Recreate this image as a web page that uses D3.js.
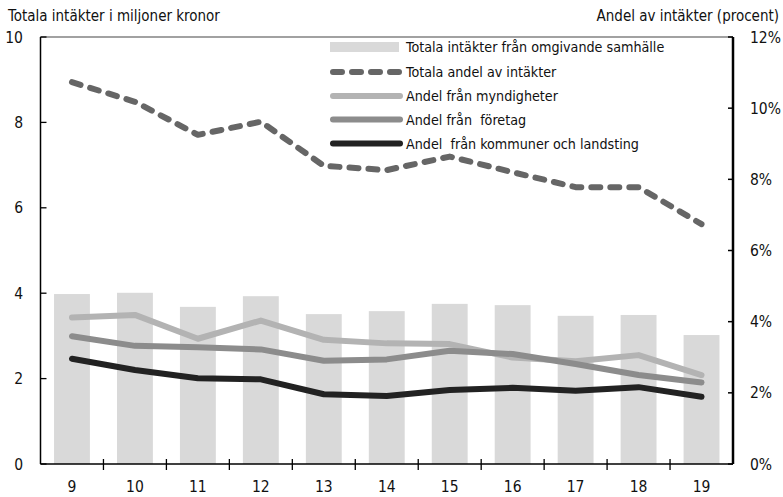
<!DOCTYPE html>
<html lang="sv">
<head>
<meta charset="utf-8">
<title>Intäkter</title>
<script src="https://cdn.jsdelivr.net/npm/d3@7"></script>
<style>
  body { margin: 0; background: #fff; }
  svg text { font-family: "Liberation Sans Narrow", "DejaVu Sans Condensed", sans-serif; fill: #111; white-space: pre; }
</style>
</head>
<body>
<script>
// data
var years = ["9", "10", "11", "12", "13", "14", "15", "16", "17", "18", "19"];
var totalIncome = [3.98, 4.01, 3.68, 3.93, 3.51, 3.58, 3.75, 3.72, 3.47, 3.49, 3.02];   // miljoner kronor
var totalShare = [10.73, 10.18, 9.25, 9.62, 8.38, 8.26, 8.64, 8.2, 7.78, 7.78, 6.74];  // procent
var shareGov = [4.12, 4.19, 3.52, 4.03, 3.49, 3.39, 3.37, 2.99, 2.89, 3.06, 2.5];
var shareCompany = [3.59, 3.32, 3.28, 3.22, 2.9, 2.94, 3.18, 3.09, 2.81, 2.5, 2.29];
var shareMunicipal = [2.96, 2.64, 2.41, 2.38, 1.96, 1.91, 2.08, 2.14, 2.06, 2.16, 1.89];
var leftTicks = [0, 2, 4, 6, 8, 10];
var rightTicks = [0, 2, 4, 6, 8, 10, 12];

var w = 783, h = 497;
var pLeft = 40.5, pRight = 733, pTop = 37, pBottom = 464;

var svg = d3.select("body").append("svg")
  .attr("width", w)
  .attr("height", h);

var x = d3.scaleBand()
  .domain(years)
  .range([pLeft, pRight])
  .paddingInner(0.43)
  .paddingOuter(0.215);

var yL = d3.scaleLinear().domain([0, 10]).range([pBottom, pTop]);
var yR = d3.scaleLinear().domain([0, 12]).range([pBottom, pTop]);

function cx(i) { return x(years[i]) + x.bandwidth() / 2; }

// bars
svg.selectAll("rect.bar")
  .data(totalIncome)
  .enter().append("rect")
  .attr("class", "bar")
  .attr("x", function(d, i) { return x(years[i]); })
  .attr("y", function(d) { return yL(d); })
  .attr("width", x.bandwidth())
  .attr("height", function(d) { return pBottom - yL(d); })
  .attr("fill", "#d9d9d9");

var series = [
  { name: "Totala andel av intäkter", values: totalShare, color: "#666666", dash: "9,10" },
  { name: "Andel från myndigheter", values: shareGov, color: "#b3b3b3", dash: null },
  { name: "Andel från  företag", values: shareCompany, color: "#8c8c8c", dash: null },
  { name: "Andel  från kommuner och landsting", values: shareMunicipal, color: "#222222", dash: null }
];

var line = d3.line()
  .x(function(d, i) { return cx(i); })
  .y(function(d) { return yR(d); });

// draw so that darker lines are on top
[1, 2, 3, 0].forEach(function(k) {
  var s = series[k];
  svg.append("path")
    .attr("d", line(s.values))
    .attr("fill", "none")
    .attr("stroke", s.color)
    .attr("stroke-width", 6)
    .attr("stroke-linecap", "round")
    .attr("stroke-linejoin", "round")
    .attr("stroke-dasharray", s.dash);
});

// frame: top line
svg.append("line")
  .attr("x1", pLeft).attr("x2", pRight)
  .attr("y1", pTop).attr("y2", pTop)
  .attr("stroke", "#444").attr("stroke-width", 1.2);

// left axis
svg.append("line")
  .attr("x1", pLeft).attr("x2", pLeft)
  .attr("y1", pTop).attr("y2", pBottom)
  .attr("stroke", "#000").attr("stroke-width", 1.5);

svg.selectAll("line.ltick")
  .data(leftTicks)
  .enter().append("line")
  .attr("x1", pLeft).attr("x2", pLeft + 6)
  .attr("y1", function(d) { return yL(d); })
  .attr("y2", function(d) { return yL(d); })
  .attr("stroke", "#000").attr("stroke-width", 1.3);

svg.selectAll("text.lab")
  .data(leftTicks)
  .enter().append("text")
  .attr("x", 23)
  .attr("y", function(d) { return yL(d); })
  .attr("dy", "0.36em")
  .attr("text-anchor", "end")
  .attr("font-size", "15.5px")
  .text(function(d) { return d; });

// right axis
svg.append("line")
  .attr("x1", pRight).attr("x2", pRight)
  .attr("y1", pTop).attr("y2", pBottom)
  .attr("stroke", "#000").attr("stroke-width", 2.5);

svg.selectAll("line.rtick")
  .data(rightTicks)
  .enter().append("line")
  .attr("x1", pRight - 5).attr("x2", pRight)
  .attr("y1", function(d) { return yR(d); })
  .attr("y2", function(d) { return yR(d); })
  .attr("stroke", "#000").attr("stroke-width", 1.5);

svg.selectAll("text.rlab")
  .data(rightTicks)
  .enter().append("text")
  .attr("x", 750)
  .attr("y", function(d) { return yR(d); })
  .attr("dy", "0.36em")
  .attr("font-size", "15.5px")
  .text(function(d) { return d + "%"; });

// bottom axis
svg.append("line")
  .attr("x1", pLeft).attr("x2", pRight)
  .attr("y1", pBottom).attr("y2", pBottom)
  .attr("stroke", "#000").attr("stroke-width", 1.5);

var bounds = d3.range(1, years.length).map(function(i) { return pLeft + i * x.step(); });
svg.selectAll("line.xtick")
  .data(bounds)
  .enter().append("line")
  .attr("x1", function(d) { return d; })
  .attr("x2", function(d) { return d; })
  .attr("y1", pBottom - 5).attr("y2", pBottom + 6)
  .attr("stroke", "#000").attr("stroke-width", 1.3);

svg.selectAll("text.xlab")
  .data(years)
  .enter().append("text")
  .attr("x", function(d, i) { return cx(i); })
  .attr("y", 492)
  .attr("text-anchor", "middle")
  .attr("font-size", "15.5px")
  .text(function(d) { return d; });

// axis titles
svg.append("text")
  .attr("x", 8).attr("y", 21)
  .attr("font-size", "15px")
  .text("Totala intäkter i miljoner kronor");

svg.append("text")
  .attr("x", 779).attr("y", 21)
  .attr("text-anchor", "end")
  .attr("font-size", "15px")
  .text("Andel av intäkter (procent)");

// legend
var legendY = [47, 72, 96, 119.5, 143.5];
var lg = svg.append("g");

lg.append("rect")
  .attr("x", 330).attr("y", legendY[0] - 5)
  .attr("width", 69).attr("height", 10)
  .attr("fill", "#d9d9d9");

lg.append("text")
  .attr("x", 406).attr("y", legendY[0])
  .attr("dy", "0.36em")
  .attr("font-size", "14.2px")
  .text("Totala intäkter från omgivande samhälle");

series.forEach(function(s, k) {
  var yy = legendY[k + 1];
  lg.append("line")
    .attr("x1", 333).attr("x2", 400)
    .attr("y1", yy).attr("y2", yy)
    .attr("stroke", s.color)
    .attr("stroke-width", 6)
    .attr("stroke-linecap", "round")
    .attr("stroke-dasharray", s.dash);
  lg.append("text")
    .attr("x", 406).attr("y", yy)
    .attr("dy", "0.36em")
    .attr("font-size", "14.2px")
    .text(s.name);
});
</script>
</body>
</html>
